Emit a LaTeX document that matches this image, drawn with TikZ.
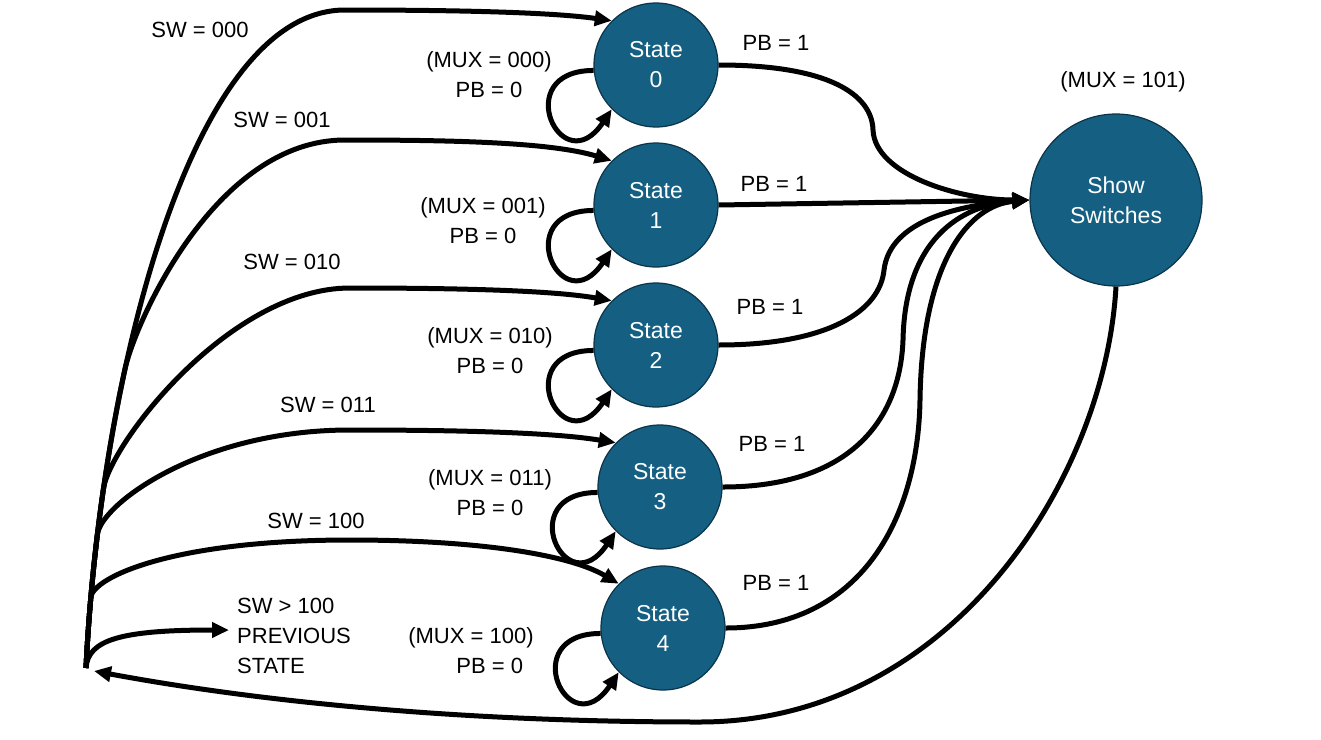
\documentclass[tikz,border=0pt]{standalone}
\usepackage{fontspec}
\setmainfont{Liberation Sans}
\definecolor{stateColour}{RGB}{21, 96, 130}
\definecolor{stateEdge}{RGB}{12, 52, 72}
\usetikzlibrary{
    arrows.meta,
    positioning
}
\tikzset{
    fsmDiagram/.style={
        statenode/.style={
            circle,
            draw=stateEdge,
            line width=1.2pt,
            fill=stateColour,
            text=white,
            minimum size=124pt,
            inner sep=0pt,
            align=center,
            font=\fontsize{23}{30}\selectfont,
        },
        bignode/.style={
            statenode,
            minimum size=172pt,
        },
        label/.style={
            align=center,
            inner sep=0pt,
        },
        arrow/.style={
            -{Triangle[length=17pt,width=15pt]},
            line width=5pt,
        },
    }
}

\begin{document}
\begin{tikzpicture}[x=1pt, y=-1pt, fsmDiagram, font=\fontsize{22}{30}\selectfont]
    \useasboundingbox (0,0) rectangle (1321,739);

    % states
    \begin{scope}
        \node[statenode] (state_0) at (656,65) {State\\0};
        \node[statenode] (state_1) at (656,205) {State\\1};
        \node[statenode] (state_2) at (656,345) {State\\2};
        \node[statenode] (state_3) at (660,487) {State\\3};
        \node[statenode] (state_4) at (663,628) {State\\4};
        \node[bignode] (show_sw) at (1116,200) {Show\\Switches};
        \coordinate (hub) at (86,668);
        \coordinate (ret) at (94,671);
        \coordinate (prev) at (229,630);
    \end{scope}

    % labels
    \begin{scope}[every node/.style={label}]
        \node (sw_0) at (200,30) {SW = 000};
        \node (sw_1) at (282,120) {SW = 001};
        \node (sw_2) at (292,262) {SW = 010};
        \node (sw_3) at (328,405) {SW = 011};
        \node (sw_4) at (316,521) {SW = 100};
        \node[anchor=west, align=left] (sw_prev) at (237,636) {SW > 100\\PREVIOUS\\STATE};
        \node (mux_0) at (489,75) {(MUX = 000)\\PB = 0};
        \node (mux_1) at (483,221) {(MUX = 001)\\PB = 0};
        \node (mux_2) at (490,351) {(MUX = 010)\\PB = 0};
        \node (mux_3) at (490,493) {(MUX = 011)\\PB = 0};
        \node[align=left] (mux_4) at (471,651) {(MUX = 100)\\\hspace*{48pt}PB = 0};
        \node (mux_5) at (1123,82) {(MUX = 101)};
        \node (pb_0) at (776,43) {PB = 1};
        \node (pb_1) at (774,184) {PB = 1};
        \node (pb_2) at (770,307) {PB = 1};
        \node (pb_3) at (772,444) {PB = 1};
        \node (pb_4) at (776,583) {PB = 1};
    \end{scope}

    % self loops
    \foreach \s in {0,...,4}
        \draw[arrow] (state_\s.185) .. controls +(-85,0) and +(-50,75) .. (state_\s.225);

    % switch select, all leaving along the same trunk
    \draw[arrow] (hub) .. controls (100,380) and (190,10) .. (345,10)
        .. controls (450,10) and (550,12) .. (state_0.135);
    \draw[arrow] (hub) .. controls (90.7,572) and (103.8,466.9) .. (124.9,369.4)
        .. controls (135,323) and (215,140) .. (345,140)
        .. controls (450,140) and (550,142) .. (state_1.135);
    \draw[arrow] (hub) .. controls (88.8,610.4) and (94.6,549.5) .. (103.4,489)
        .. controls (110,443.6) and (230,288) .. (350,288)
        .. controls (450,288) and (550,290) .. (state_2.135);
    \draw[arrow] (hub) .. controls (88.1,624.8) and (91.9,579.8) .. (97.4,534.4)
        .. controls (101,504.4) and (200,430) .. (350,430)
        .. controls (450,430) and (550,432) .. (state_3.135);
    \draw[arrow] (hub) .. controls (87.1,645) and (88.7,621.4) .. (90.8,597.5)
        .. controls (92.5,578) and (170,540) .. (350,540)
        .. controls (480,540) and (570,555) .. (state_4.135);
    \draw[arrow] (hub) .. controls (88,640) and (120,630) .. (prev);

    % push button to show switches
    \draw[arrow] (state_0.east) .. controls (830,65) and (872,95) .. (873,130)
        .. controls (875,175) and (960,200) .. (show_sw.west);
    \draw[arrow] (state_1.east) -- (show_sw.west);
    \draw[arrow] (state_2.east) .. controls (830,345) and (880,310) .. (884,270)
        .. controls (890,220) and (960,205) .. (show_sw.west);
    \draw[arrow] (state_3.east) .. controls (850,487) and (900,420) .. (903,340)
        .. controls (905,240) and (960,205) .. (show_sw.west);
    \draw[arrow] (state_4.east) .. controls (860,628) and (918,520) .. (920,400)
        .. controls (922,260) and (970,205) .. (show_sw.west);

    % back to previous state
    \draw[arrow] (show_sw.south) .. controls (1105,480) and (950,722) .. (700,722)
        .. controls (450,722) and (250,700) .. (ret);
\end{tikzpicture}
\end{document}
